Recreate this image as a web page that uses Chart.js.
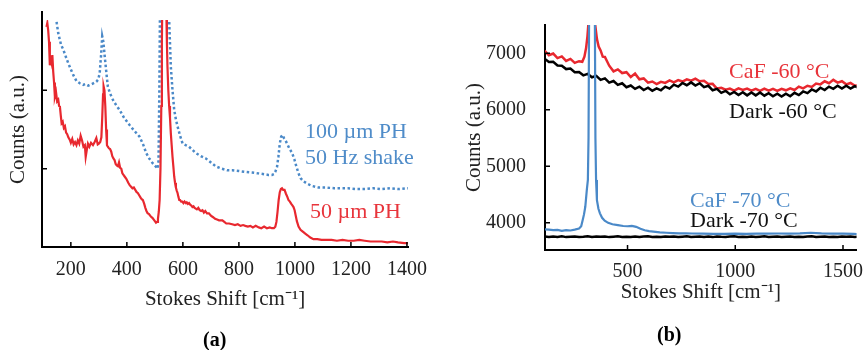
<!DOCTYPE html>
<html>
<head>
<meta charset="utf-8">
<script src="https://cdn.jsdelivr.net/npm/chart.js@4"></script>
<style>
  body { margin: 0; background: #fff; }
  #wrap { position: relative; width: 865px; height: 350px; overflow: hidden; font-family: "Liberation Serif", serif; }
  canvas { position: absolute; top: 0; }
  .lbl { position: absolute; font-size: 22px; line-height: 1; white-space: nowrap; }
  .cap { position: absolute; font-size: 20px; font-weight: bold; line-height: 1; }
</style>
</head>
<body>
<div id="wrap">
  <canvas id="chartA" width="430" height="350" style="left:0"></canvas>
  <canvas id="chartB" width="435" height="350" style="left:430px"></canvas>

  <div class="lbl" style="left:305px;top:120px;color:#4f8cc9">100 µm PH</div>
  <div class="lbl" style="left:305px;top:146px;color:#4f8cc9">50 Hz shake</div>
  <div class="lbl" style="left:310px;top:200px;color:#e8343b">50 µm PH</div>

  <div class="lbl" style="left:729px;top:60px;color:#e8343b">CaF -60 °C</div>
  <div class="lbl" style="left:729px;top:100px;color:#111">Dark -60 °C</div>
  <div class="lbl" style="left:690px;top:189px;color:#4f8cc9">CaF -70 °C</div>
  <div class="lbl" style="left:690px;top:209px;color:#111">Dark -70 °C</div>

  <div class="cap" style="left:203px;top:329px">(a)</div>
  <div class="cap" style="left:657px;top:324px">(b)</div>
</div>
<script>
const RED = '#e8282f';
const BLUE = '#4a89c8';
const SERIF = '"Liberation Serif", serif';

// ---- panel (a) ----
const aTicksX = [200, 400, 600, 800, 1000, 1200, 1400];
const aTicksY = [100, 200];

// 50 um PH (red, solid)
const aRedX = [113,116,119,122,125,128,131,134,137,140,143,147,151,155,158,161,164,167,171,175,179,183,187,191,196,200,205,210,215,220,225,230,235,240,245,250,253,257,261,266,272,279,285,291,296,300,305,309,312,315,317,320,323,326,329,332,336,340,344,348,352,356,360,364,368,372,376,380,384,388,392,398,405,410,415,420,425,430,435,439,444,449,453,457,462,466,470,474,479,483,488,492,496,500,504,508,511,514,517,520,523,525,527,533,538,541,543,545,548,551,554,557,560,563,566,569,572,575,578,581,584,587,590,594,598,602,606,611,614,618,622,626,630,634,638,642,646,650,655,660,665,670,675,680,686,693,700,708,715,722,729,736,741,748,755,765,776,786,796,806,815,823,832,841,850,860,871,880,890,900,910,918,925,930,934,938,942,946,950,954,958,963,968,973,977,982,987,991,995,999,1003,1007,1013,1020,1027,1037,1045,1055,1066,1080,1095,1110,1131,1150,1170,1190,1210,1230,1249,1270,1290,1310,1330,1350,1368,1390,1410];
const aRedY = [281,286,277,262,232,240,235,245,224,210,192,198,186,188,180,179,168,158,160,152,154,146,144,140,137,133,138,131,134,130,136,132,142,136,128,130,115,124,132,128,133,130,134,139,131,132,134,140,165,195,205,200,180,150,130,128,126,125,122,116,113,111,106,104,103,108,101,100,94,92,90,87,82,79,77,75,76,73,70,69,66,63,61,60,55,50,46,43,42,40,38,37,35,33,31,32,36,45,60,100,180,260,330,380,370,300,260,230,200,180,165,145,130,115,103,90,82,76,72,69,64,60,60,58,58,56,58,56,57,55,56,54,53,51,52,50,49,48,50,47,46,47,44,46,43,43,40,38,36,35,34,34,34,32,30,30,29,28,29,27,28,27,26,27,25,27,25,24,26,24,25,24,24,26,32,45,60,70,74,75,73,73,68,64,60,58,55,53,51,47,40,33,26,22,20,17,15,12,10,10,9,9,9,8,9,8,8,9,8,7,7,7,6,7,6,5,5];

// 100 um PH, 50 Hz shake (blue, dotted)
const aBlueX = [145,150,155,165,173,185,196,208,220,232,244,252,262,275,291,298,303,308,312,316,321,327,332,340,350,362,374,390,409,425,445,458,469,480,492,500,510,513,516,518,522,545,551,554,557,563,569,575,581,590,599,610,622,634,646,664,682,700,717,738,758,776,800,820,847,870,890,905,918,925,930,936,941,946,951,956,961,965,972,980,990,998,1005,1013,1020,1030,1043,1060,1084,1110,1140,1170,1190,1220,1250,1280,1308,1340,1370,1400,1410];
const aBlueY = [300,285,273,258,252,240,230,220,212,209,207,208,206,208,211,214,222,245,269,262,243,222,205,196,188,181,175,165,156,149,141,131,120,113,107,104,100,110,200,290,340,340,290,260,230,200,175,163,154,142,132,130,128,124,120,116,113,108,103,100,98,98,97,96,95,94,93,92,92,93,96,102,115,132,141,143,139,137,132,126,120,112,103,94,88,84,81,78,76,76,75,75,75,74,74,75,74,75,74,75,75];

// ---- panel (b) ----
const bTicksX = [500, 1000, 1500];
const bTicksY = [4000, 5000, 6000, 7000];

// shared sampling for the dark spectra
const bGridX = [115,135,155,175,195,215,235,255,275,295,
  315,335,355,375,395,415,435,455,475,495,
  515,535,555,575,595,615,635,655,675,695,
  715,735,755,775,795,815,835,855,875,895,
  915,935,955,975,995,1015,1035,1055,1075,1095,
  1115,1135,1155,1175,1195,1215,1235,1255,1275,1295,
  1315,1335,1355,1375,1395,1415,1435,1455,1475,1495,
  1515,1535,1555,1575];

const dark60Y = [6905,6845,6850,6785,6780,6720,6730,6665,6670,6610,
  6635,6575,6600,6530,6555,6480,6510,6440,6470,6400,
  6430,6370,6410,6350,6390,6335,6380,6345,6410,6375,
  6445,6410,6475,6435,6485,6430,6470,6400,6425,6345,
  6370,6300,6335,6275,6315,6260,6310,6255,6305,6255,
  6305,6250,6295,6240,6285,6235,6285,6240,6300,6260,
  6325,6295,6360,6325,6390,6350,6410,6370,6425,6375,
  6425,6375,6420,6385];

const dark70Y = [3760,3750,3758,3752,3762,3748,3756,3760,3750,3755,
  3762,3749,3757,3753,3760,3748,3755,3761,3750,3756,
  3752,3759,3748,3757,3762,3751,3755,3749,3758,3753,
  3760,3750,3756,3762,3749,3754,3758,3751,3757,3748,
  3760,3754,3750,3757,3761,3749,3755,3752,3759,3750,
  3756,3762,3751,3754,3758,3749,3756,3760,3752,3755,
  3748,3757,3761,3750,3754,3759,3752,3756,3749,3758,
  3753,3760,3751,3755];

const caf60X = [115,135,155,175,195,215,235,255,275,290,300,308,314,320,335,350,358,366,375,385,395,415,435,455,475,495,515,535,555,575,595,615,635,655,675,695,715,735,755,775,795,815,835,855,875,895,915,935,955,975,995,1015,1035,1055,1075,1095,1115,1135,1155,1175,1195,1215,1235,1255,1275,1295,1315,1335,1355,1375,1395,1415,1435,1455,1475,1495,1515,1535,1555,1575];
const caf60Y = [7045,6965,6995,6915,6945,6865,6900,6830,6860,6850,6940,7100,7300,7600,8300,7500,7250,7120,7050,6940,6935,6780,6680,6715,6650,6665,6580,6640,6540,6555,6480,6500,6455,6495,6475,6520,6485,6525,6500,6540,6515,6550,6505,6515,6455,6460,6375,6390,6355,6375,6340,6380,6350,6375,6340,6370,6335,6375,6340,6370,6335,6370,6345,6380,6350,6410,6380,6425,6405,6465,6450,6505,6470,6530,6480,6505,6450,6475,6425,6440];

const caf70X = [115,135,155,175,195,215,235,255,275,285,292,298,304,311,316,319,322,336,348,351,354,358,365,372,382,394,410,430,455,480,500,520,540,560,580,600,620,650,680,710,740,770,800,850,900,950,1000,1050,1100,1150,1200,1250,1300,1350,1400,1450,1500,1550,1575];
const caf70Y = [3885,3880,3870,3875,3860,3870,3865,3880,3900,3940,4050,4150,4285,4580,4760,5500,8000,14000,8000,5500,4760,4400,4250,4168,4090,4038,4000,3975,3960,3945,3940,3945,3930,3895,3870,3855,3845,3832,3825,3820,3815,3815,3812,3808,3805,3805,3810,3805,3808,3810,3812,3810,3815,3825,3815,3810,3808,3805,3802];

function pts(xs, ys) {
  return xs.map((x, i) => ({ x: x, y: ys[i] }));
}

// small inward tick marks like the original figure
const inTicks = {
  id: 'inTicks',
  afterDraw(chart) {
    const { ctx, chartArea: a, scales: { x, y } } = chart;
    ctx.save();
    ctx.strokeStyle = '#000';
    ctx.lineWidth = 1.5;
    ctx.beginPath();
    x.ticks.forEach(t => {
      const px = x.getPixelForValue(t.value);
      ctx.moveTo(px, a.bottom);
      ctx.lineTo(px, a.bottom - 5);
    });
    y.ticks.forEach(t => {
      const py = y.getPixelForValue(t.value);
      ctx.moveTo(a.left, py);
      ctx.lineTo(a.left + 5, py);
    });
    ctx.stroke();
    ctx.restore();
  }
};

const tickFont = { family: SERIF, size: 20 };
const titleFont = { family: SERIF, size: 21 };
const plain = v => String(v);

new Chart(document.getElementById('chartA'), {
  type: 'line',
  data: {
    datasets: [
      { data: pts(aRedX, aRedY), borderColor: RED, borderWidth: 2.2, pointRadius: 0, tension: 0,
        clip: { left: 0, top: -8, right: 0, bottom: 2 } },
      { data: pts(aBlueX, aBlueY), borderColor: BLUE, borderWidth: 2.5, borderDash: [2.5, 2.5], pointRadius: 0, tension: 0,
        clip: { left: 0, top: -8, right: 0, bottom: 2 } }
    ]
  },
  options: {
    responsive: false,
    animation: false,
    layout: { autoPadding: false, padding: { top: 12, right: 20, bottom: 38, left: 0 } },
    plugins: { legend: { display: false }, tooltip: { enabled: false } },
    scales: {
      x: {
        type: 'linear', min: 97, max: 1404,
        afterBuildTicks: s => { s.ticks = aTicksX.map(v => ({ value: v })); },
        afterFit: s => { s.height = 65; },
        grid: { display: false },
        border: { color: '#000', width: 2 },
        ticks: { color: '#222', font: tickFont, padding: 3, maxRotation: 0, autoSkip: false, callback: plain },
        title: { display: true, text: 'Stokes Shift [cm⁻¹]', color: '#222', font: titleFont, padding: { top: 0, bottom: 0 } }
      },
      y: {
        type: 'linear', min: 0, max: 300,
        afterBuildTicks: s => { s.ticks = aTicksY.map(v => ({ value: v })); },
        afterFit: s => { s.width = 42; },
        grid: { display: false },
        border: { color: '#000', width: 2 },
        ticks: { display: false },
        title: { display: true, text: 'Counts (a.u.)', color: '#222', font: titleFont, padding: { top: 6, bottom: 0 } }
      }
    }
  },
  plugins: [inTicks]
});

new Chart(document.getElementById('chartB'), {
  type: 'line',
  data: {
    datasets: [
      { data: pts(caf70X, caf70Y), borderColor: BLUE, borderWidth: 2.2, pointRadius: 0, tension: 0 },
      { data: pts(bGridX, dark70Y), borderColor: '#000', borderWidth: 2.5, pointRadius: 0, tension: 0 },
      { data: pts(bGridX, dark60Y), borderColor: '#000', borderWidth: 2.5, pointRadius: 0, tension: 0 },
      { data: pts(caf60X, caf60Y), borderColor: RED, borderWidth: 2.5, pointRadius: 0, tension: 0 }
    ]
  },
  options: {
    responsive: false,
    animation: false,
    layout: { autoPadding: false, padding: { top: 25, right: 0, bottom: 45, left: 0 } },
    plugins: { legend: { display: false }, tooltip: { enabled: false } },
    scales: {
      x: {
        type: 'linear', min: 117, max: 1563,
        afterBuildTicks: s => { s.ticks = bTicksX.map(v => ({ value: v })); },
        afterFit: s => { s.height = 55; },
        grid: { display: false },
        border: { color: '#000', width: 2 },
        ticks: { color: '#222', font: tickFont, padding: 2, maxRotation: 0, autoSkip: false, callback: plain },
        title: { display: true, text: 'Stokes Shift [cm⁻¹]', color: '#222', font: titleFont, padding: { top: 0, bottom: 0 } }
      },
      y: {
        type: 'linear', min: 3520, max: 7500,
        afterBuildTicks: s => { s.ticks = bTicksY.map(v => ({ value: v })); },
        afterFit: s => { s.width = 115; },
        grid: { display: false },
        border: { color: '#000', width: 2 },
        ticks: { color: '#222', font: tickFont, padding: 11, callback: plain },
        title: { display: true, text: 'Counts (a.u.)', color: '#222', font: titleFont, padding: { top: 32, bottom: 0 } }
      }
    }
  },
  plugins: [inTicks]
});
</script>
</body>
</html>
